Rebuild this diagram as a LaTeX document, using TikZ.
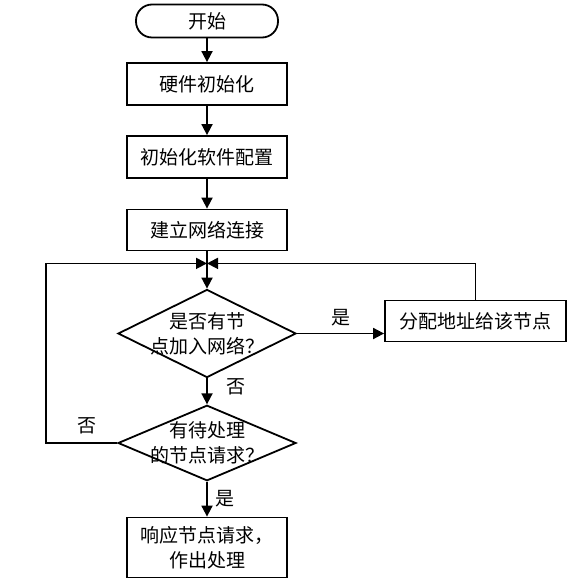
\documentclass[tikz,border=0pt]{standalone}
\usepackage{fontspec}
\newfontfamily\cjk{Noto Sans CJK SC}
\usetikzlibrary{shapes.geometric, arrows.meta}

\begin{document}
\begin{tikzpicture}[
    x=1pt, y=1pt,
    node distance=73pt,
    base/.style={draw, line width=1.8pt, font=\cjk\fontsize{19}{25}\selectfont, align=center, inner sep=2pt},
    startbox/.style={base, rectangle, rounded corners=16pt, minimum width=142pt, minimum height=33pt},
    procbox/.style={base, rectangle, minimum width=160pt, minimum height=42pt},
    decbox/.style={base, diamond, aspect=2, inner sep=-8pt, minimum width=178pt, minimum height=88pt},
    lbl/.style={font=\cjk\fontsize{19}{22}\selectfont, inner sep=2pt},
    arrow/.style={->, >={Triangle[length=11pt, width=11pt]}, line width=1.8pt}
]
\useasboundingbox (0,0) rectangle (582,-585);

% Start
\node[startbox] (start) at (207,-21) {开始};

% Initialisation steps
\node[procbox, below of=start, yshift=10pt] (hw) {硬件初始化};
\node[procbox, below of=hw] (sw) {初始化软件配置};
\node[procbox, below of=sw, minimum height=41pt] (net) {建立网络连接};

% Decisions and actions
\node[decbox, below of=net, yshift=-30.5pt] (newnode) {是否有节\\点加入网络？};
\node[procbox, right of=newnode, xshift=195.5pt, yshift=12.5pt, minimum width=181pt, minimum height=41pt] (assign) {分配地址给该节点};
\node[decbox, below of=newnode, yshift=-36.5pt, minimum height=73pt] (request) {有待处理\\的节点请求？};
\node[procbox, below of=request, yshift=-31.5pt, minimum height=60pt] (answer) {响应节点请求，\\作出处理};

% Merge point of the loops
\coordinate (merge) at ([yshift=-12pt]net.south);

% Arrows
\draw[arrow] (start) -- (hw);
\draw[arrow] (hw) -- (sw);
\draw[arrow] (sw) -- (net);
\draw[arrow] (net) -- (newnode);
\draw[arrow] (newnode.east) -- node[lbl, above=5pt] {是} (newnode.east -| assign.west);
\draw[arrow] (assign.north) |- (merge);
\draw[arrow] (newnode) -- node[lbl, right=17pt, yshift=5pt] {否} (request);
\draw[arrow] (request.west) -- node[lbl, above=6pt, pos=0.42] {否} ++(-71pt,0) |- (merge);
\draw[arrow] (request) -- node[lbl, right=6pt] {是} (answer);

\end{tikzpicture}
\end{document}
